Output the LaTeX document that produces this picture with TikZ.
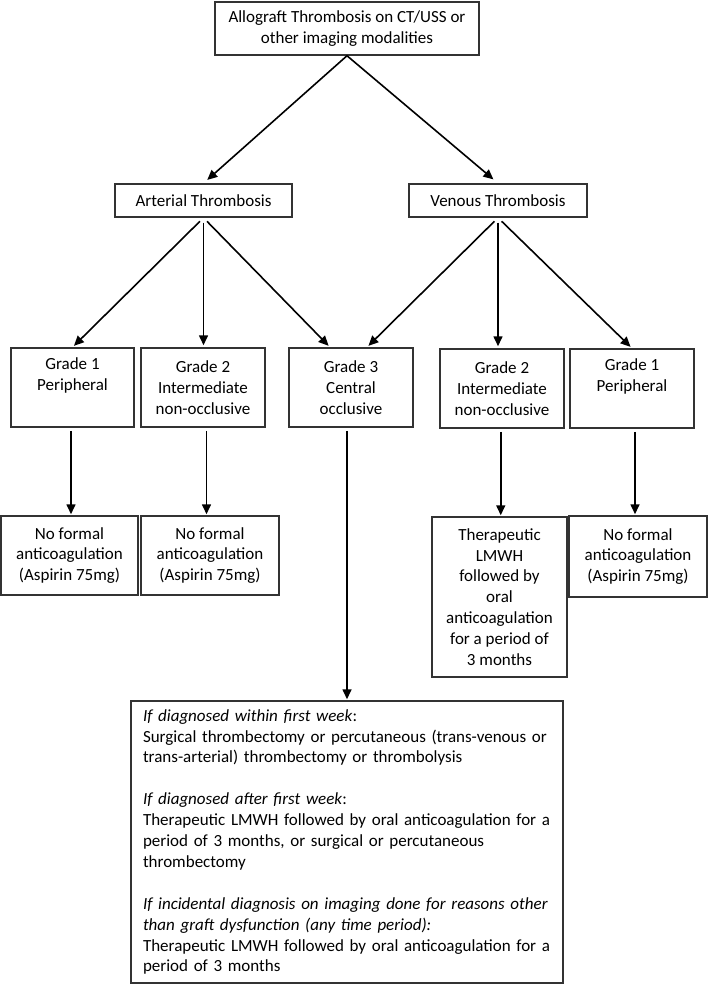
\documentclass[tikz,border=0pt]{standalone}
\usepackage{fontspec}
\setmainfont{Carlito}
\usetikzlibrary{arrows.meta,calc}
\definecolor{boxline}{HTML}{333333}
\tikzset{
  box/.style={draw=boxline, line width=1.5pt, inner sep=0pt, align=center,
    font=\fontsize{17}{20.9}\selectfont, text=black},
  arr/.style={draw=black, line width=1.6pt, -{Triangle[length=10pt,width=9pt]}},
}
\begin{document}
\begin{tikzpicture}[x=1pt,y=-1pt]
\useasboundingbox (0,0) rectangle (709,984);
\node[box, minimum width=264pt, minimum height=53pt] (top) at (347,28.5)
  {Allograft Thrombosis on CT/USS or\\other imaging modalities};
\node[box, minimum width=177pt, minimum height=33pt] (art) at (203.5,200.5) {Arterial Thrombosis};
\node[box, minimum width=178pt, minimum height=33pt] (ven) at (498,200.5) {Venous Thrombosis};

\node[box, minimum width=123pt, minimum height=79pt] (g1a) at (72.5,387.5) {Grade 1\\Peripheral\\\strut};
\node[box, minimum width=124pt, minimum height=79pt] (g2a) at (203,387.5) {Grade 2\\Intermediate\\non-occlusive};
\node[box, minimum width=124pt, minimum height=79pt] (g3) at (351,387.5) {Grade 3\\Central\\occlusive};
\node[box, minimum width=124pt, minimum height=79pt] (g2v) at (502,388.5) {Grade 2\\Intermediate\\non-occlusive};
\node[box, minimum width=124pt, minimum height=79pt] (g1v) at (632,388.5) {Grade 1\\Peripheral\\\strut};

\node[box, minimum width=137pt, minimum height=79pt] (nf1a) at (69.5,555.5) {No formal\\anticoagulation\\(Aspirin 75mg)};
\node[box, minimum width=138pt, minimum height=79pt] (nf2a) at (210,555.5) {No formal\\anticoagulation\\(Aspirin 75mg)};
\node[box, minimum width=135pt, minimum height=160pt] (thv) at (499.5,597)
  {Therapeutic\\LMWH\\followed by\\oral\\anticoagulation\\for a period of\\3 months};
\node[box, minimum width=138pt, minimum height=81pt] (nf1v) at (638,556.5) {No formal\\anticoagulation\\(Aspirin 75mg)};

\node[box, minimum width=432pt, minimum height=282pt, text width=408pt, align=left] (big) at (347,842)
  {\textit{If diagnosed within first week}:\\
   Surgical thrombectomy or percutaneous (trans-venous or\\
   trans-arterial) thrombectomy or thrombolysis\\[20.9pt]
   \textit{If diagnosed after first week}:\\
   Therapeutic LMWH followed by oral anticoagulation for a\\
   period of 3 months, or surgical or percutaneous\\
   thrombectomy\\[20.9pt]
   \textit{If incidental diagnosis on imaging done for reasons other}\\
   \textit{than graft dysfunction (any time period):}\\
   Therapeutic LMWH followed by oral anticoagulation for a\\
   period of 3 months};

% top level
\draw[arr, shorten >=5pt] (top.south) -- (art.north);
\draw[arr, shorten >=6pt] (top.south) -- (ven.north);
% arterial
\draw[arr, shorten <=5pt, shorten >=2pt] (art.south) -- (g1a.north);
\draw[arr, shorten <=5pt, shorten >=2pt] (art.south) -- (art.south |- g2a.north);
\draw[arr, shorten <=5pt, shorten >=2pt] (art.south) -- ($(g3.north)+(-21,0)$);
% venous
\draw[arr, shorten <=5pt, shorten >=2pt] (ven.south) -- ($(g3.north)+(16,0)$);
\draw[arr, shorten <=5pt, shorten >=2pt] (ven.south) -- (ven.south |- g2v.north);
\draw[arr, shorten <=5pt, shorten >=2pt] (ven.south) -- (g1v.north);
% grade to treatment
\draw[arr, shorten <=3pt, shorten >=1pt] ($(g1a.south)!.5!(g1a.south -| nf1a.north)$) -- ($(nf1a.north)!.5!(nf1a.north -| g1a.south)$);
\draw[arr, shorten <=3pt, shorten >=1pt] ($(g2a.south)!.5!(g2a.south -| nf2a.north)$) -- ($(nf2a.north)!.5!(nf2a.north -| g2a.south)$);
\draw[arr, shorten <=3pt, shorten >=1pt] ($(g2v.south)!.5!(g2v.south -| thv.north)$) -- ($(thv.north)!.5!(thv.north -| g2v.south)$);
\draw[arr, shorten <=3pt, shorten >=1pt] ($(g1v.south)!.5!(g1v.south -| nf1v.north)$) -- ($(nf1v.north)!.5!(nf1v.north -| g1v.south)$);
\draw[arr, shorten <=3pt, shorten >=1pt] (big.north |- g3.south) -- (big.north);
\end{tikzpicture}
\end{document}
